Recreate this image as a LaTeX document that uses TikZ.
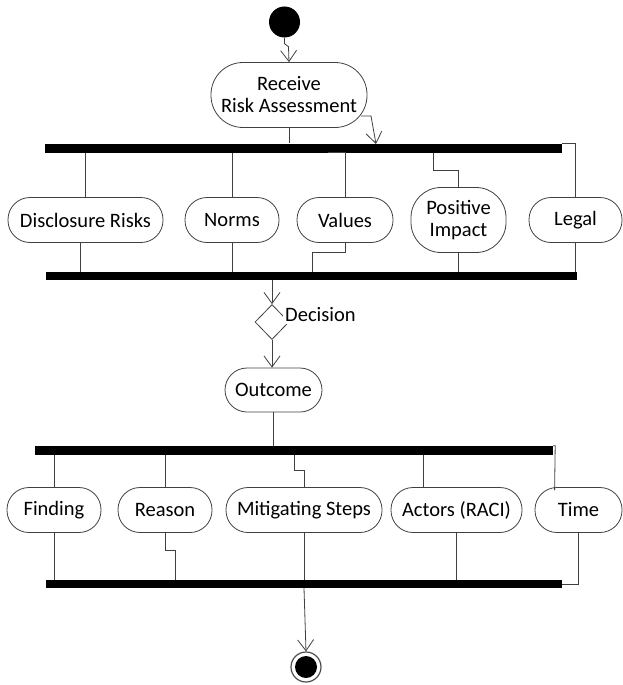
\documentclass[tikz,border=0pt]{standalone}
\usepackage{fontspec}
\setmainfont{Carlito}
\usetikzlibrary{arrows.meta,positioning,shapes.geometric}
\tikzset{
	act/.style={draw=black!75, line width=0.8pt, rounded corners=22pt, minimum height=45pt,
		inner sep=2pt, align=center, text=black, font=\fontsize{20.5}{22}\selectfont},
	bar/.style={fill=black, inner sep=0pt, minimum height=9pt},
	flow/.style={draw=black!75, line width=0.8pt},
	flowarr/.style={flow, -{Straight Barb[length=11pt,width=16pt]}},
	lab/.style={fill=white, inner sep=2pt, text=black, font=\fontsize{20.5}{22}\selectfont}
}
\begin{document}
\begin{tikzpicture}[x=1pt, y=-1pt]
	\useasboundingbox (0,0) rectangle (623,685);
	% start and first action
	\node[circle, fill=black, minimum size=31pt, inner sep=0pt] (start) at (284.5,22) {};
	\node[act, minimum width=156pt, minimum height=65pt, rounded corners=32pt] (recv) at (289,95)
	{Receive\\Risk Assessment};
	\node[bar, minimum width=517pt] (bar1) at (303.5,148) {};
	% first fork
	\node[act, minimum width=155pt] (dis) at (85.5,220) {Disclosure Risks};
	\node[act, minimum width=94pt] (norms) at (232,220) {Norms};
	\node[act, minimum width=96pt] (values) at (345,220) {Values};
	\node[act, minimum width=95pt, minimum height=65pt, rounded corners=30pt] (pos) at (458.5,220)
	{Positive\\Impact};
	\node[act, minimum width=93pt] (legal) at (575.5,220) {Legal};
	\node[bar, minimum width=531pt, minimum height=8pt] (bar2) at (311.5,276) {};
	% decision
	\node[diamond, draw=black!75, line width=0.8pt, minimum width=34pt, minimum height=35pt,
		inner sep=0pt] (decide) at (272,322) {};
	\node[lab, anchor=west] (declab) at (283,315) {Decision};
	\node[act, minimum width=97pt, minimum height=44pt] (outcome) at (273.5,390) {Outcome};
	\node[bar, minimum width=518pt] (bar3) at (294,450.5) {};
	% second fork
	\node[act, minimum width=94pt] (find) at (54,510) {Finding};
	\node[act, minimum width=94pt] (reason) at (165,510) {Reason};
	\node[act, minimum width=156pt] (mitig) at (304,510) {Mitigating Steps};
	\node[act, minimum width=131pt] (actors) at (456.5,510) {Actors (RACI)};
	\node[act, minimum width=87pt] (timen) at (578.5,510) {Time};
	\node[bar, minimum width=516pt, minimum height=8pt] (bar4) at (304,584) {};
	% end
	\node[circle, draw=black!70, line width=1.2pt, minimum size=30pt, inner sep=0pt] (stop) at (306,667) {};
	\node[circle, fill=black, minimum size=22pt, inner sep=0pt] (stopdot) at (stop) {};
	\coordinate (recvtail) at (361,116);
	\coordinate (barhit) at (376,144);

	\draw[flowarr] (start.south) -- ++(0,6) -- ++(4,3) -- (recv.north);
	\draw[flow] (recv.south) -- (recv.south |- bar1.north);
	\draw[flowarr] (recvtail) -- ++(10,0) -- (barhit);
	\draw[flow] (bar1.south -| dis.north) -- (dis.north);
	\draw[flow] (bar1.south -| norms.north) -- (norms.north);
	\draw[flow] (bar1.south -| values.north) ++(-17,0) -- (bar1.south -| values.north) -- (values.north);
	\draw[flow] ([xshift=-25pt]bar1.south -| pos.north) -- ++(0,17.5) -| (pos.north);
	\draw[flow] (bar1.north east) -- (bar1.north east -| legal.north) -- (legal.north);
	\draw[flow] ([xshift=-5pt]dis.south) -- ([xshift=-5pt]dis.south |- bar2.north);
	\draw[flow] (norms.south) -- (norms.south |- bar2.north);
	\draw[flow] (values.south) -- ++(0,9) -| ([xshift=-33pt]values.south |- bar2.north);
	\draw[flow] (pos.south) -- (pos.south |- bar2.north);
	\draw[flow] (legal.south) -- (legal.south |- bar2.north);
	\draw[flowarr] (bar2.south -| decide.north) -- (decide.north);
	\draw[flowarr] (decide.south) -- (decide.south |- outcome.north);
	\draw[flow] (outcome.south) -- (outcome.south |- bar3.north);
	\draw[flow] (bar3.south -| find.north) -- (find.north);
	\draw[flow] (bar3.south -| reason.north) -- (reason.north);
	\draw[flow] ([xshift=-10pt]bar3.south -| mitig.north) -- ++(0,15) -| (mitig.north);
	\draw[flow] ([xshift=-33.5pt]bar3.south -| actors.north) -- ([xshift=-33.5pt]actors.north);
	\draw[flow] (bar3.north east) -- ++(2,0) -- ([shift={(20,3)}]timen.north west);
	\draw[flow] (find.south) -- (find.south |- bar4.north);
	\draw[flow] (reason.south) -- ++(0,17) -| ([xshift=10pt]reason.south |- bar4.north);
	\draw[flow] (mitig.south) -- (mitig.south |- bar4.north);
	\draw[flow] (actors.south) -- (actors.south |- bar4.north);
	\draw[flow] (timen.south) -- (timen.south |- bar4.east) -- (bar4.east);
	\draw[flowarr] (bar4.south -| mitig.south) -- (stop.north);
\end{tikzpicture}
\end{document}
